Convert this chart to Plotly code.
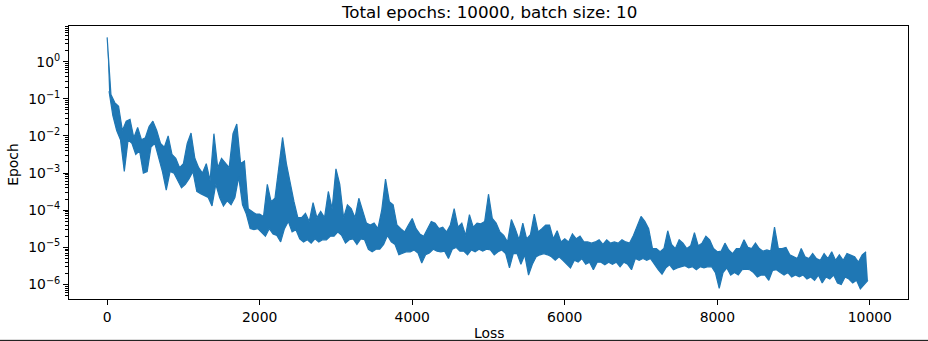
import plotly.graph_objects as go

# Window start epochs (every 50 epochs); each window has its upper and lower loss
window_start = list(range(0, 10000, 50))

loss_high = [
    4.5, 0.13, 0.079, 0.063, 1.4e-2, 2.5e-2, 2.8e-2, 8.9e-3, 1.7e-2, 7.9e-3,
    8.9e-3, 1.8e-2, 2.5e-2, 1.4e-2, 6.3e-3, 5e-3, 1e-2, 3.2e-3, 2.5e-3, 1.4e-3,
    1.8e-3, 6.3e-3, 1.2e-2, 2.5e-3, 1.4e-3, 1e-3, 1.8e-3, 6.3e-4, 1.15e-2, 1.4e-3,
    2.5e-3, 1.8e-3, 1.4e-3, 1.15e-2, 2.1e-2, 1.8e-3, 2.1e-3, 1.1e-4, 9.3e-5, 7.9e-5,
    7.9e-5, 6.8e-5, 5e-4, 1.7e-4, 2.1e-4, 1.4e-3, 9.1e-3, 1.8e-3, 5e-4, 1.7e-4,
    6.3e-5, 6.3e-5, 8.3e-5, 5e-5, 1.6e-4, 6.3e-5, 9.3e-5, 6.3e-5, 3.2e-4, 1.1e-4,
    1.3e-3, 5e-4, 6.3e-5, 1.4e-4, 1.1e-4, 6.3e-5, 2.1e-4, 9.3e-5, 4.5e-5, 4e-5,
    4.5e-5, 3.2e-5, 1e-4, 6.9e-4, 1.7e-4, 1.4e-4, 4e-5, 3.2e-5, 2.6e-5, 4e-5,
    6e-5, 3.2e-5, 2.3e-5, 2e-5, 3.2e-5, 5e-5, 4.5e-5, 3.2e-5, 3.5e-5, 2.6e-5,
    4e-5, 1.1e-4, 3.5e-5, 4.5e-5, 2.1e-5, 7.6e-5, 3.5e-5, 4.5e-5, 4.3e-5, 5e-5,
    2.7e-4, 6e-5, 4.5e-5, 2.6e-5, 2.1e-5, 1.4e-5, 5.6e-5, 3.2e-5, 1.6e-5, 4.5e-5,
    1.7e-5, 2.2e-5, 7.9e-5, 2.6e-5, 3.2e-5, 4e-5, 4e-5, 1.7e-5, 2.8e-5, 1.4e-5,
    1.7e-5, 1.4e-5, 2.3e-5, 1.7e-5, 2e-5, 1.4e-5, 1.4e-5, 1.3e-5, 1.4e-5, 1.6e-5,
    1.2e-5, 1.6e-5, 1.3e-5, 1.4e-5, 1.3e-5, 1.6e-5, 1.4e-5, 1.3e-5, 2.1e-5, 4e-5,
    6.8e-5, 5e-5, 3.2e-5, 9.3e-6, 9.3e-6, 7.6e-6, 9.3e-6, 2.8e-5, 1.2e-5, 9.3e-6,
    1.6e-5, 1.3e-5, 9.3e-6, 1.1e-5, 2.5e-5, 1.1e-5, 1.3e-5, 2e-5, 1.6e-5, 9.3e-6,
    7.6e-6, 7.9e-6, 1.3e-5, 8.5e-6, 6.8e-6, 9.3e-6, 9.3e-6, 1.6e-5, 1e-5, 9.3e-6,
    1.3e-5, 9.3e-6, 7.9e-6, 8.5e-6, 7.9e-6, 3.5e-5, 9.3e-6, 9.3e-6, 1e-5, 6.3e-6,
    5.6e-6, 5e-6, 9.3e-6, 5.6e-6, 5e-6, 6.8e-6, 5e-6, 4.5e-6, 6.8e-6, 5e-6,
    7.6e-6, 4.5e-6, 6.3e-6, 4.5e-6, 6.8e-6, 6.3e-6, 5.6e-6, 4e-6, 6.3e-6, 7.6e-6,
]

loss_low = [
    0.16, 0.035, 1.4e-2, 7.9e-3, 1.1e-3, 7.9e-3, 6.3e-3, 3.2e-3, 4e-3, 1e-3,
    1.1e-3, 5e-3, 6.3e-3, 2.5e-3, 1.1e-3, 3.5e-4, 1.1e-3, 1e-3, 6.3e-4, 4e-4,
    5e-4, 7.1e-4, 1.1e-3, 3.2e-4, 2.8e-4, 2.5e-4, 2.2e-4, 1.3e-4, 5e-4, 2.2e-4,
    1.3e-4, 1.8e-4, 1.4e-4, 2.2e-4, 7.9e-4, 1.4e-4, 7.9e-5, 3.2e-5, 3e-5, 3.2e-5,
    2.6e-5, 2e-5, 3.2e-5, 2.3e-5, 2.1e-5, 1.4e-5, 3.2e-5, 5e-5, 2.6e-5, 3e-5,
    1.7e-5, 1.4e-5, 1.6e-5, 1.3e-5, 1.7e-5, 1.4e-5, 1.6e-5, 1.6e-5, 2e-5, 2e-5,
    2.6e-5, 2.1e-5, 1.3e-5, 1.6e-5, 1.7e-5, 1.2e-5, 1.7e-5, 1.6e-5, 8.9e-6, 7.6e-6,
    8.9e-6, 8.9e-6, 1.2e-5, 2.1e-5, 1.4e-5, 1.2e-5, 6.3e-6, 6.8e-6, 7.6e-6, 7.6e-6,
    8.5e-6, 7.1e-6, 3.8e-6, 6.3e-6, 7.1e-6, 8.9e-6, 7.9e-6, 7.6e-6, 7.9e-6, 5e-6,
    8.9e-6, 1e-5, 7.9e-6, 7.9e-6, 6.3e-6, 8.5e-6, 7.6e-6, 8.9e-6, 7.9e-6, 8.9e-6,
    8.5e-6, 6.3e-6, 7.6e-6, 8.5e-6, 6.8e-6, 2.8e-6, 6.8e-6, 6.8e-6, 3.5e-6, 6.3e-6,
    1.8e-6, 3.5e-6, 5.6e-6, 6.3e-6, 6.8e-6, 6.3e-6, 5.6e-6, 4.5e-6, 5.6e-6, 4.5e-6,
    3.5e-6, 2.8e-6, 4.5e-6, 4e-6, 5e-6, 3.5e-6, 4e-6, 2.5e-6, 4e-6, 4e-6,
    3.4e-6, 4e-6, 3.5e-6, 4e-6, 3e-6, 4e-6, 3.5e-6, 2.5e-6, 5e-6, 4.5e-6,
    5e-6, 4.5e-6, 5e-6, 3.4e-6, 2.5e-6, 1.9e-6, 2.8e-6, 3.4e-6, 2.5e-6, 2.8e-6,
    3e-6, 3.2e-6, 2.8e-6, 3e-6, 2.5e-6, 3e-6, 2.8e-6, 3e-6, 3e-6, 2.1e-6,
    7.9e-7, 2.1e-6, 2.8e-6, 1.8e-6, 2.1e-6, 1.8e-6, 2.5e-6, 2.6e-6, 2.5e-6, 2.1e-6,
    1.6e-6, 1.8e-6, 1.8e-6, 1.3e-6, 2.4e-6, 2.5e-6, 2.1e-6, 1.8e-6, 2.1e-6, 1.6e-6,
    1.8e-6, 1.6e-6, 1.8e-6, 1.4e-6, 1.6e-6, 1.3e-6, 1.8e-6, 1.1e-6, 1.6e-6, 1.4e-6,
    1.8e-6, 1.1e-6, 1e-6, 1.6e-6, 1.4e-6, 1.1e-6, 1.3e-6, 7.6e-7, 1e-6, 1.3e-6,
]

x_ticks = [0, 2000, 4000, 6000, 8000, 10000]
y_ticks = [1e-6, 1e-5, 1e-4, 1e-3, 1e-2, 1e-1, 1e0]
y_tick_text = ["10<sup>\u22126</sup>", "10<sup>\u22125</sup>", "10<sup>\u22124</sup>",
               "10<sup>\u22123</sup>", "10<sup>\u22122</sup>", "10<sup>\u22121</sup>",
               "10<sup>0</sup>"]
y_minor = [k * 10.0 ** e for e in range(-7, 1) for k in range(2, 10)]

title_text = "Total epochs: 10000, batch size: 10"
x_label = "Loss"
y_label = "Epoch"

COLOR = "#1f77b4"
high_x = window_start
low_x = [e + 25 for e in window_start]

fig = go.Figure()
# upper envelope of the noisy loss curve
fig.add_trace(go.Scatter(x=high_x, y=loss_high, mode="lines",
                         line=dict(color=COLOR, width=1.2), hoverinfo="skip"))
# lower envelope, the band between the two is filled
fig.add_trace(go.Scatter(x=low_x, y=loss_low, mode="lines",
                         line=dict(color=COLOR, width=1.2), fill="tonexty",
                         fillcolor=COLOR, hoverinfo="skip"))

FONT = "DejaVu Sans"
fig.update_layout(
    template="none",
    width=928, height=341,
    margin=dict(l=69, r=20, t=26, b=42, autoexpand=False),
    plot_bgcolor="white", paper_bgcolor="white",
    showlegend=False,
    font=dict(family=FONT, size=13.9, color="black"),
)
fig.update_xaxes(
    range=[-500, 10500], tickvals=x_ticks, ticktext=[str(v) for v in x_ticks],
    ticks="outside", ticklen=5, tickwidth=1, tickcolor="black",
    showline=True, mirror=True, linecolor="black", linewidth=1,
    showgrid=False, zeroline=False, automargin=False,
    tickfont=dict(family=FONT, size=13.9, color="black"),
)
fig.update_yaxes(
    type="log", range=[-6.39, 0.96], tickvals=y_ticks, ticktext=y_tick_text,
    ticks="outside", ticklen=5, tickwidth=1, tickcolor="black",
    minor=dict(tickvals=y_minor, ticks="outside", ticklen=3, tickwidth=0.8,
               tickcolor="black", showgrid=False),
    showline=True, mirror=True, linecolor="black", linewidth=1,
    showgrid=False, zeroline=False, automargin=False,
    tickfont=dict(family=FONT, size=13.9, color="black"),
)
fig.add_annotation(text=title_text, xref="paper", yref="paper", x=0.5, y=1.051,
                   xanchor="center", yanchor="middle", showarrow=False,
                   font=dict(family=FONT, size=16.7, color="black"))
fig.add_annotation(text=x_label, xref="paper", yref="paper", x=0.5, y=-0.1245,
                   xanchor="center", yanchor="middle", showarrow=False,
                   font=dict(family=FONT, size=13.9, color="black"))
fig.add_annotation(text=y_label, xref="paper", yref="paper", x=-0.067, y=0.4945,
                   xanchor="center", yanchor="middle", showarrow=False, textangle=-90,
                   font=dict(family=FONT, size=13.9, color="black"))
fig.add_shape(type="line", xref="paper", yref="paper", x0=-0.083, x1=1.024,
              y0=-0.1515, y1=-0.1515, line=dict(color="black", width=1))

# remove the default 8px page margin so the figure fills the window exactly
fig.write_html("out.html", config={"displayModeBar": False},
               post_script="document.body.style.margin='0';document.body.style.overflow='hidden';")
